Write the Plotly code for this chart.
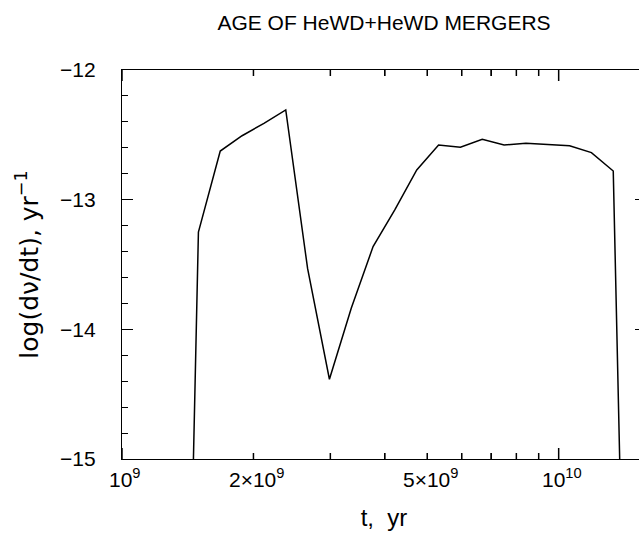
import math
import plotly.graph_objects as go

# Data; x is log10(t / yr)
log_t = [9.125, 9.175, 9.225, 9.275, 9.325, 9.375, 9.425, 9.475, 9.525, 9.575,
         9.625, 9.675, 9.725, 9.775, 9.825, 9.875, 9.925, 9.975, 10.025, 10.075,
         10.125, 10.175]
log_rate = [-20.9, -13.25, -12.625, -12.507, -12.411, -12.308, -13.53, -14.385,
            -13.837, -13.362, -13.077, -12.771, -12.578, -12.596, -12.534, -12.578,
            -12.565, -12.573, -12.584, -12.637, -12.779, -20.3]

# x tick marks: minor at 2..9 x 10^9 yr, major at 10^9 and 10^10 yr
minor_xtick_years = [2e9, 3e9, 4e9, 5e9, 6e9, 7e9, 8e9, 9e9]
major_xtick_years = [1e9, 1e10]
xlabel_years = [1e9, 2e9, 5e9, 1e10]
xlabel_text = ["10<sup>9</sup>", "2×10<sup>9</sup>", "5×10<sup>9</sup>", "10<sup>10</sup>"]
ytick_vals = [-15, -14, -13, -12]

FONT = "Liberation Sans, Arial, sans-serif"
WIDE_FONT = "DejaVu Sans, Liberation Sans, sans-serif"
W, H = 656, 538

fig = go.Figure()
fig.add_trace(go.Scatter(x=log_t, y=log_rate, mode="lines",
                         line=dict(color="black", width=1.5),
                         showlegend=False, hoverinfo="skip"))

# inward tick marks on bottom (paper y=0) and top (paper y=1) x axes,
# placed in data x and sized in pixels
for years, length in ((minor_xtick_years, 6), (major_xtick_years, 11)):
    for v in years:
        for edge, sign in ((0, 1), (1, -1)):
            fig.add_shape(type="line", xref="x", yref="paper",
                          x0=math.log10(v), x1=math.log10(v),
                          ysizemode="pixel", yanchor=edge,
                          y0=0, y1=sign * length,
                          line=dict(color="black", width=1.5), layer="above")

for v, txt in zip(xlabel_years, xlabel_text):
    fig.add_annotation(x=math.log10(v), xref="x", y=0, yref="paper",
                       text=txt, showarrow=False, xanchor="center",
                       yanchor="top", xshift=3, yshift=-4,
                       font=dict(family=FONT, size=21, color="black"))

fig.update_layout(
    width=W, height=H,
    margin=dict(l=122, r=10, t=70, b=79),
    paper_bgcolor="white", plot_bgcolor="white",
    title=dict(text="AGE OF HeWD+HeWD MERGERS", x=384 / W, xanchor="center",
               y=1 - 23 / H, yanchor="middle", yref="container",
               font=dict(family=FONT, size=21, color="black")),
    xaxis=dict(type="linear", range=[9, 10.2], showticklabels=False,
               tickmode="array",
               tickvals=[math.log10(v) for v in minor_xtick_years],
               ticks="inside", ticklen=6, tickwidth=1.3, tickcolor="black",
               showline=True, linecolor="black", linewidth=1.3,
               mirror="ticks", showgrid=False, zeroline=False,
               title=dict(text="t,\u00a0 yr", standoff=50,
                          font=dict(family=FONT, size=24, color="black"))),
    yaxis=dict(range=[-15, -12], tickmode="array", tickvals=ytick_vals,
               ticks="inside", ticklen=11, tickwidth=1.3, tickcolor="black",
               minor=dict(dtick=0.2, ticks="inside", ticklen=6,
                          tickwidth=1.3, tickcolor="black"),
               showline=True, linecolor="black", linewidth=1.3, mirror="ticks",
               showgrid=False, zeroline=False, ticklabelstandoff=21,
               tickfont=dict(family=FONT, size=21, color="black"),
               title=dict(text="log(dν/dt), yr<sup>−1</sup>", standoff=14,
                          font=dict(family=WIDE_FONT, size=25, color="black"))),
)

fig.write_html("out.html", config={"displayModeBar": False},
               post_script="document.body.style.margin='0';"
                           "document.body.style.overflow='hidden';")
